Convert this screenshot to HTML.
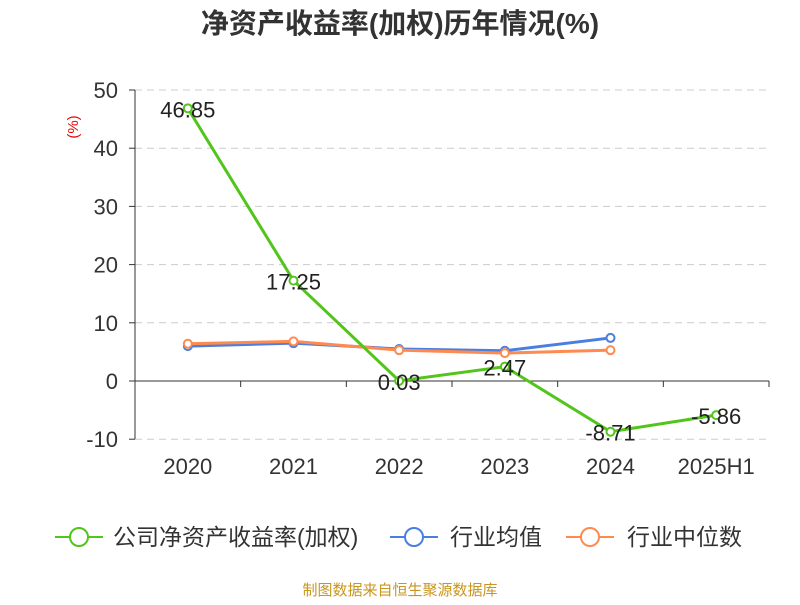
<!DOCTYPE html>
<html><head><meta charset="utf-8"><style>
body{margin:0;background:#fff;font-family:"Liberation Sans","Noto Sans CJK SC",sans-serif}
</style></head><body>
<svg id="c" width="800" height="600" xmlns="http://www.w3.org/2000/svg" font-family="Liberation Sans, Noto Sans CJK SC, sans-serif">
<text x="400" y="33" text-anchor="middle" font-size="28" font-weight="bold" fill="#333">净资产收益率(加权)历年情况(%)</text>
<text x="78" y="127" text-anchor="middle" font-size="15" fill="#e00" transform="rotate(-90 78 127)">(%)</text>
<g id="grid"></g><g id="axes"></g><g id="series"></g>
<g>
<g><line x1="55" y1="537" x2="103" y2="537" stroke="#52c41a" stroke-width="2"/><circle cx="79" cy="537" r="9" fill="#fff" stroke="#52c41a" stroke-width="2"/><text x="113" y="545" font-size="23" fill="#333">公司净资产收益率(加权)</text></g>
<g><line x1="390" y1="537" x2="438" y2="537" stroke="#4a7fe0" stroke-width="2"/><circle cx="414" cy="537" r="9" fill="#fff" stroke="#4a7fe0" stroke-width="2"/><text x="450" y="545" font-size="23" fill="#333">行业均值</text></g>
<g><line x1="566" y1="537" x2="614" y2="537" stroke="#ff8a50" stroke-width="2"/><circle cx="590" cy="537" r="9" fill="#fff" stroke="#ff8a50" stroke-width="2"/><text x="627" y="545" font-size="23" fill="#333">行业中位数</text></g>
</g>
<text x="400" y="595" text-anchor="middle" font-size="15" fill="#c8961e">制图数据来自恒生聚源数据库</text>
</svg>
<script>
const categories=["2020","2021","2022","2023","2024","2025H1"];
const company=[46.85,17.25,0.03,2.47,-8.71,-5.86];
const industryAvg=[6.0,6.5,5.5,5.2,7.4];
const industryMedian=[6.4,6.8,5.3,4.8,5.3];
const yTicks=[-10,0,10,20,30,40,50];
const NS="http://www.w3.org/2000/svg";
const x0=135,x1=769,yTop=90,yBot=439;
const step=(x1-x0)/categories.length;
const xs=i=>x0+step*(i+0.5);
const ys=v=>381-(v/10)*58.2;
function mk(tag,attrs,parent){const e=document.createElementNS(NS,tag);for(const k in attrs)e.setAttribute(k,attrs[k]);document.getElementById(parent).appendChild(e);return e;}
yTicks.forEach(t=>{
 if(t!==0){const g=mk('line',{x1:x0,x2:x1,y1:ys(t),y2:ys(t),stroke:'#ccc','stroke-dasharray':'7,5'},'grid');
 
 }
 const tk=mk('line',{x1:x0-6,x2:x0,y1:ys(t),y2:ys(t),stroke:'#333'},'axes');
 
 
 const l=mk('text',{x:x0-17,y:ys(t)+8,'text-anchor':'end','font-size':22,fill:'#333'},'axes');l.textContent=t;
 
 
});
const ya=mk('line',{x1:x0,x2:x0,y1:yTop,y2:yBot,stroke:'#333'},'axes');


const xa=mk('line',{x1:x0,x2:x1,y1:ys(0),y2:ys(0),stroke:'#333'},'axes');


for(let i=0;i<=categories.length;i++){const t=mk('line',{x1:x0+step*i,x2:x0+step*i,y1:ys(0),y2:ys(0)+6,stroke:'#333'},'axes');
 
 }
categories.forEach((c,i)=>{const l=mk('text',{x:xs(i),y:474,'text-anchor':'middle','font-size':22,fill:'#333'},'axes');l.textContent=c;
 
 });
function series(vals,color,name,labels){
 const p=mk('polyline',{points:vals.map((v,i)=>xs(i)+','+ys(v)).join(' '),fill:'none',stroke:color,'stroke-width':3},'series');
 
 
 vals.forEach((v,i)=>{const c=mk('circle',{cx:xs(i),cy:ys(v),r:4,fill:'#fff',stroke:color,'stroke-width':2},'series');
  
  
  if(labels){const t=mk('text',{x:xs(i),y:ys(v)+9,'text-anchor':'middle','font-size':22,fill:'#222'},'series');t.textContent=v.toFixed(2);
  
  }});
}
series(industryAvg,'#4a7fe0','industry-avg',false);
series(industryMedian,'#ff8a50','industry-median',false);
series(company,'#52c41a','company',true);
</script>
</body></html>
